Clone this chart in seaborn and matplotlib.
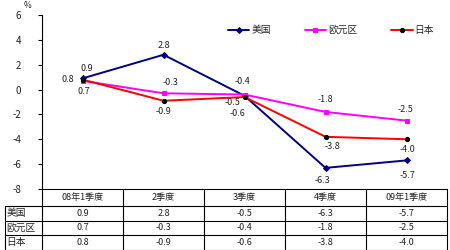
import matplotlib
matplotlib.use("Agg")
import matplotlib.pyplot as plt
import matplotlib.transforms as mtransforms
import seaborn as sns
import pandas as pd

categories = ["08年1季度", "2季度", "3季度", "4季度", "09年1季度"]
us = [0.9, 2.8, -0.5, -6.3, -5.7]
euro = [0.7, -0.3, -0.4, -1.8, -2.5]
japan = [0.8, -0.9, -0.6, -3.8, -4.0]
series_names = ["美国", "欧元区", "日本"]
yticks = [6, 4, 2, 0, -2, -4, -6, -8]

sns.set_theme(style="white")
plt.rcParams['font.family'] = ['Noto Sans CJK SC', 'DejaVu Sans']

fig = plt.figure(figsize=(4.5, 2.5), dpi=100)
ax = fig.add_axes([42/450, (250-189)/250, 405/450, 174/250])

idx = list(range(len(categories)))
df = pd.DataFrame({"idx": idx * 3,
                   "value": us + euro + japan,
                   "country": [n for n in series_names for _ in idx]})

styles = {
    "美国": dict(color="#000080", marker="D", markersize=3, markerfacecolor="#000080", markeredgecolor="#000080"),
    "欧元区": dict(color="#FF00FF", marker="s", markersize=3.5, markerfacecolor="#FF00FF", markeredgecolor="#FF00FF"),
    "日本": dict(color="#FF0000", marker="o", markersize=3, markerfacecolor="black", markeredgecolor="black"),
}
for name in series_names:
    sub = df[df.country == name]
    sns.lineplot(data=sub, x="idx", y="value", ax=ax, label=name, linewidth=1.4, **styles[name])

ax.set_xlim(-0.5, len(categories) - 0.5)
ax.set_ylim(-8, 6)
ax.set_yticks(yticks)
ax.set_yticklabels([str(t) for t in yticks], fontsize=7, color="#222222")
ax.set_xticks([])
ax.set_xlabel("")
ax.set_ylabel("")
for s in ["top", "right", "bottom"]:
    ax.spines[s].set_visible(False)
ax.spines["left"].set_color("black")
ax.spines["left"].set_linewidth(0.8)
ax.tick_params(axis="y", length=3, width=0.8, color="black", left=True, pad=12)
ax.text(-0.025, 1.03, "%", transform=ax.transAxes, fontsize=6, ha="right", va="bottom", color="#222222")

# data labels (offsets in pixels)
label_offsets = {
    "美国": [(4, 10), (0, 9), (-12, -7), (-3, -13), (1, -15)],
    "欧元区": [(1, -11), (7, 11), (-2, 13), (0, 12), (-1, 11)],
    "日本": [(-15, 0), (0, -11), (-7, -16), (7, -10), (1, -10)],
}
vals = {"美国": us, "欧元区": euro, "日本": japan}
for name in series_names:
    for i, v in enumerate(vals[name]):
        dx, dy = label_offsets[name][i]
        ax.annotate(f"{v:.1f}", (i, v), xytext=(dx, dy), textcoords="offset pixels",
                    ha="center", va="center", fontsize=6.5, color="#222222")

leg = ax.legend(loc="upper right", bbox_to_anchor=(0.978, 0.965), ncol=3, frameon=False,
                fontsize=7, handlelength=2.2, handletextpad=0.2, columnspacing=3.5,
                borderaxespad=0)

# table below the axes (x: data coords, y: axes coords)
trans = mtransforms.blended_transform_factory(ax.transData, ax.transAxes)
row_h = 14.5 / 174
y_top = 0.0
y_hdr = -17 / 174
rows_y = [y_hdr - row_h * k for k in range(4)]
x_left_label = -0.5 - 37 / 81
x_right = len(categories) - 0.5
lw = 0.8
ax.plot([-0.5, x_right], [y_top, y_top], transform=trans, color="black", lw=lw, clip_on=False)
for y in rows_y:
    ax.plot([x_left_label, x_right], [y, y], transform=trans, color="black", lw=lw, clip_on=False)
ax.plot([x_left_label, x_left_label], [y_hdr, rows_y[-1]], transform=trans, color="black", lw=lw, clip_on=False)
for k in range(len(categories) + 1):
    xk = -0.5 + k
    ax.plot([xk, xk], [y_top, rows_y[-1]], transform=trans, color="black", lw=lw, clip_on=False)
for i, c in enumerate(categories):
    ax.text(i, (y_top + y_hdr) / 2, c, transform=trans, ha="center", va="center", fontsize=6.5, color="#222222")
for r, name in enumerate(series_names):
    yc = (rows_y[r] + rows_y[r + 1]) / 2
    ax.text(x_left_label + 0.02, yc, name, transform=trans, ha="left", va="center", fontsize=7, color="#222222")
    for i, v in enumerate(vals[name]):
        ax.text(i, yc, f"{v:.1f}", transform=trans, ha="center", va="center", fontsize=6.5, color="#222222")

fig.savefig("out.png", dpi=100)
